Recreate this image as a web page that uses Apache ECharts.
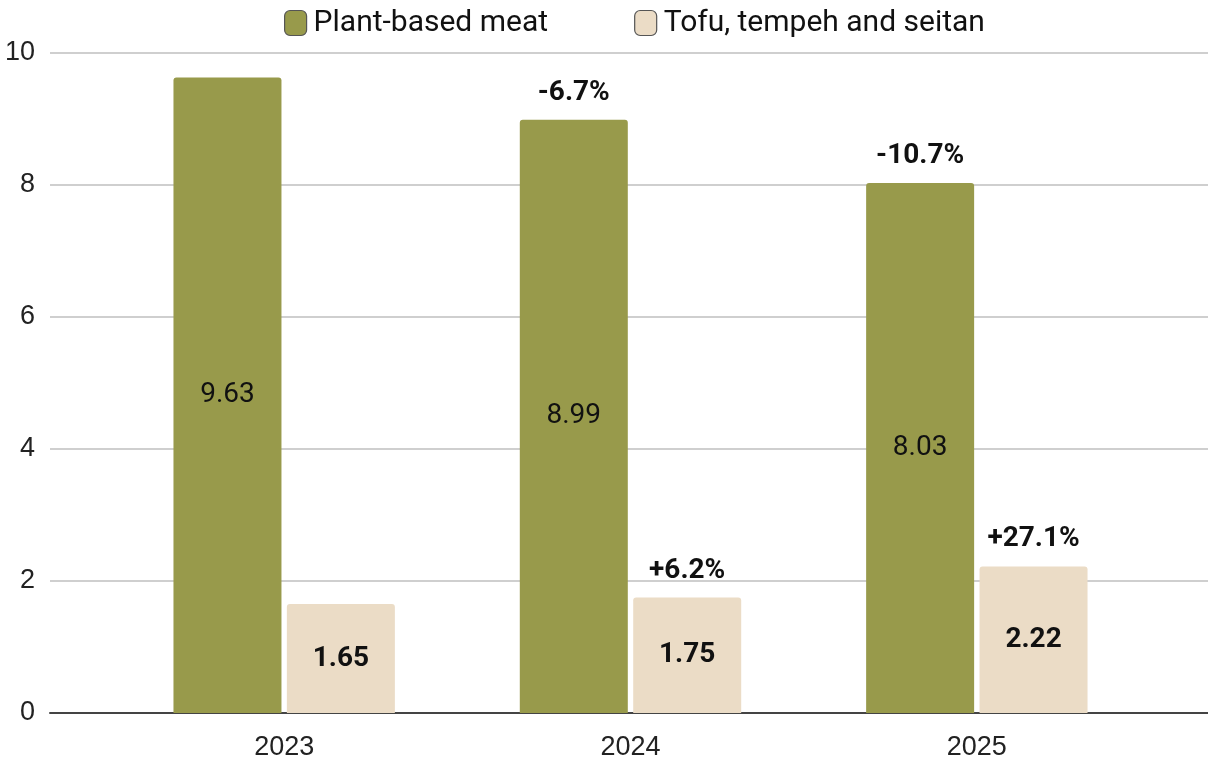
<!DOCTYPE html>
<html>
<head>
<meta charset="UTF-8">
<title>Plant-based meat vs tofu</title>
<script type="text/javascript" src="https://cdn.jsdelivr.net/npm/echarts@6/dist/echarts.min.js"></script>
<style>
  html, body { margin: 0; padding: 0; background: #fff; }
</style>
</head>
<body>

<div id="box" style="width:1208px;height:765px;"></div>

<script type="text/javascript">

// data
var years = ['2023', '2024', '2025'];
var plantMeat = [9.63, 8.99, 8.03];
var tofuEtc = [1.65, 1.75, 2.22];
var plantChange = ['', '-6.7%', '-10.7%'];
var tofuChange = ['', '+6.2%', '+27.1%'];
var yTicks = [0, 2, 4, 6, 8, 10];

var green = '#989a4b';
var tan = '#ebdcc6';
var font = 'Roboto';

var mychart = echarts.init(document.getElementById('box'));

// zero-height bars stacked on top just to carry the % labels
function pctSeries(stack, texts) {
  return {
    name: stack + '-pct',
    type: 'bar',
    xAxisIndex: 1,
    yAxisIndex: 1,
    stack: stack,
    barWidth: 108,
    barGap: '5%',
    data: texts.map(function () { return 0; }),
    itemStyle: { color: 'transparent' },
    silent: true,
    label: {
      show: true,
      position: 'top',
      distance: 13,
      fontFamily: font,
      fontSize: 28,
      fontWeight: 'bold',
      color: '#111',
      formatter: function (p) { return texts[p.dataIndex]; }
    }
  };
}

var option = {
  animation: false,
  legend: {
    top: 3,
    left: 279,
    data: ['Plant-based meat', 'Tofu, tempeh and seitan'],
    icon: 'roundRect',
    itemWidth: 22,
    itemHeight: 25,
    itemGap: 86,
    itemStyle: { borderColor: '#555', borderWidth: 1.2 },
    textStyle: { fontFamily: font, fontSize: 30, color: '#111', padding: [0, 0, 0, 2] }
  },
  grid: [
    { left: 50, right: 0, top: 53, bottom: 52 },
    { left: 111, right: 58, top: 53, bottom: 52 }
  ],
  xAxis: [
    {
      gridIndex: 0,
      type: 'category',
      data: years,
      axisLine: { show: true, lineStyle: { color: '#444', width: 2 } },
      axisTick: { show: false },
      axisLabel: { show: false }
    },
    {
      gridIndex: 1,
      type: 'category',
      data: years,
      axisLine: { show: false },
      axisTick: { show: false },
      axisLabel: {
        fontFamily: 'Liberation Sans',
        fontSize: 27,
        color: '#222',
        margin: 21
      }
    }
  ],
  yAxis: [
    {
      gridIndex: 0,
      type: 'value',
      min: yTicks[0],
      max: yTicks[yTicks.length - 1],
      interval: 2,
      axisLine: { show: false },
      axisTick: { show: false },
      axisLabel: {
        fontFamily: 'Liberation Sans',
        fontSize: 27,
        color: '#222',
        margin: 15,
        align: 'right'
      },
      splitLine: { lineStyle: { color: '#cfcfcf', width: 2 } }
    },
    {
      gridIndex: 1,
      type: 'value',
      min: 0,
      max: 10,
      interval: 2,
      show: false,
      splitLine: { show: false }
    }
  ],
  series: [
    {
      name: 'Plant-based meat',
      type: 'bar',
      xAxisIndex: 1,
      yAxisIndex: 1,
      stack: 'plant',
      barWidth: 108,
      barGap: '5%',
      data: plantMeat,
      emphasis: { disabled: true },
      itemStyle: { color: green, borderRadius: [3, 3, 0, 0] },
      label: {
        show: true,
        position: 'inside',
        fontFamily: font,
        fontSize: 28,
        color: '#111'
      }
    },
    pctSeries('plant', plantChange),
    {
      name: 'Tofu, tempeh and seitan',
      type: 'bar',
      xAxisIndex: 1,
      yAxisIndex: 1,
      stack: 'tofu',
      barWidth: 108,
      barGap: '5%',
      data: tofuEtc,
      emphasis: { disabled: true },
      itemStyle: { color: tan, borderRadius: [3, 3, 0, 0] },
      label: {
        show: true,
        position: 'inside',
        fontFamily: font,
        fontSize: 28,
        fontWeight: 'bold',
        color: '#111'
      }
    },
    pctSeries('tofu', tofuChange)
  ]
};

mychart.setOption(option);

</script>
</body>
</html>
